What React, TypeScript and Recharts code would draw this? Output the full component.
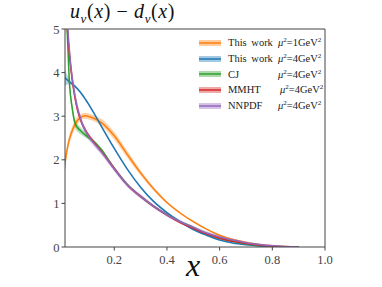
import React from 'react';
import { ComposedChart, Line, Area, XAxis, YAxis, ReferenceLine } from 'recharts';

// x grid of the curves
const xs = [0.01, 0.015, 0.02, 0.03, 0.04, 0.05, 0.06, 0.07, 0.08, 0.09, 0.1, 0.12, 0.15, 0.2, 0.25, 0.3, 0.35, 0.4, 0.45, 0.5, 0.55, 0.6, 0.65, 0.7, 0.75, 0.8, 0.85, 0.9];

// u_v - d_v, central values
const thisWork1 = [1.75, 2.0, 2.2, 2.48, 2.66, 2.8, 2.9, 2.96, 3.0, 3.01, 3.0, 2.96, 2.86, 2.55, 2.12, 1.7, 1.33, 1.02, 0.78, 0.58, 0.41, 0.27, 0.17, 0.105, 0.06, 0.03, 0.01, 0];
const thisWork4 = [3.9, 3.87, 3.84, 3.79, 3.74, 3.69, 3.63, 3.56, 3.48, 3.39, 3.3, 3.1, 2.78, 2.26, 1.78, 1.37, 1.04, 0.79, 0.58, 0.4, 0.27, 0.16, 0.09, 0.05, 0.025, 0.01, 0.003, 0];
const cj = [6.5, 5.5, 5.1, 3.75, 3.2, 2.86, 2.74, 2.68, 2.62, 2.57, 2.52, 2.43, 2.24, 1.8, 1.43, 1.16, 0.93, 0.74, 0.58, 0.45, 0.31, 0.2, 0.13, 0.075, 0.04, 0.018, 0.006, 0];
const mmht = [8, 6.5, 5.3, 4.4, 3.85, 3.45, 3.15, 2.95, 2.8, 2.68, 2.58, 2.42, 2.2, 1.8, 1.42, 1.16, 0.93, 0.73, 0.56, 0.43, 0.3, 0.2, 0.13, 0.08, 0.045, 0.02, 0.007, 0];
const nnpdf = [9, 7, 5.6, 4.5, 3.9, 3.5, 3.2, 2.98, 2.8, 2.67, 2.56, 2.4, 2.19, 1.79, 1.42, 1.16, 0.93, 0.74, 0.58, 0.45, 0.32, 0.23, 0.16, 0.1, 0.06, 0.03, 0.01, 0];

// half-widths of the uncertainty bands
const thisWork1Err = [0.05, 0.08, 0.1, 0.1, 0.1, 0.1, 0.09, 0.08, 0.07, 0.07, 0.07, 0.07, 0.08, 0.09, 0.08, 0.06, 0.04, 0.03, 0.02, 0.02, 0.01, 0.01, 0.01, 0, 0, 0, 0, 0];
const thisWork4Err = [0.2, 0.17, 0.12, 0.06, 0.04, 0.03, 0.03, 0.03, 0.03, 0.03, 0.03, 0.03, 0.03, 0.03, 0.02, 0.02, 0.02, 0.02, 0.02, 0.02, 0.01, 0.01, 0.01, 0, 0, 0, 0, 0];
const cjErr = [0.2, 0.15, 0.12, 0.1, 0.1, 0.1, 0.09, 0.08, 0.07, 0.06, 0.05, 0.04, 0.04, 0.03, 0.03, 0.02, 0.02, 0.02, 0.02, 0.02, 0.01, 0.01, 0.01, 0, 0, 0, 0, 0];
const mmhtErr = [0.2, 0.15, 0.12, 0.1, 0.08, 0.07, 0.06, 0.06, 0.05, 0.05, 0.05, 0.04, 0.04, 0.04, 0.03, 0.03, 0.03, 0.02, 0.02, 0.02, 0.02, 0.02, 0.01, 0.01, 0.01, 0, 0, 0];
const nnpdfErr = [0.3, 0.25, 0.2, 0.15, 0.12, 0.1, 0.1, 0.09, 0.08, 0.08, 0.07, 0.07, 0.06, 0.06, 0.05, 0.05, 0.04, 0.04, 0.04, 0.04, 0.04, 0.04, 0.03, 0.03, 0.02, 0.02, 0.01, 0];

const xTicks = [0.2, 0.4, 0.6, 0.8, 1.0];
const yTicks = [0, 1, 2, 3, 4, 5];

const series = [
  { key: 'tw1', name: 'This work', scale: '1', color: '#ff7f0e', vals: thisWork1, err: thisWork1Err },
  { key: 'tw4', name: 'This work', scale: '4', color: '#1f77b4', vals: thisWork4, err: thisWork4Err },
  { key: 'cj', name: 'CJ', scale: '4', color: '#2ca02c', vals: cj, err: cjErr },
  { key: 'mmht', name: 'MMHT', scale: '4', color: '#d62728', vals: mmht, err: mmhtErr },
  { key: 'nnpdf', name: 'NNPDF', scale: '4', color: '#9467bd', vals: nnpdf, err: nnpdfErr },
];

const rows = xs.map((x, i) => {
  const row: Record<string, any> = { x };
  series.forEach((s) => {
    row[s.key] = s.vals[i];
    row[s.key + 'Band'] = [s.vals[i] - s.err[i], s.vals[i] + s.err[i]];
  });
  return row;
});

const serif = "'Liberation Serif', serif";

const XTick = (props: any) => {
  const { x, y, payload } = props;
  return (
    <text x={x} y={y + 11} textAnchor="middle" fill="#444" fontSize={12.5} fontFamily={serif}>
      {Number(payload.value).toFixed(1)}
    </text>
  );
};

const YTick = (props: any) => {
  const { x, y, payload } = props;
  return (
    <text x={x} y={y + 4.5} textAnchor="end" fill="#444" fontSize={12.5} fontFamily={serif}>
      {payload.value}
    </text>
  );
};

const sup = { fontSize: 7, verticalAlign: 4, lineHeight: 0 } as const;

const LegendBox = () => (
  <div style={{ position: 'absolute', left: 199, top: 35, fontFamily: serif, fontSize: 10.5, color: '#222' }}>
    {series.map((s) => (
      <div key={s.key} style={{ display: 'flex', alignItems: 'center', height: 15.7 }}>
        <svg width={22} height={10} style={{ marginRight: 7, flexShrink: 0 }}>
          <rect x={0} y={2} width={22} height={6} fill={s.color} fillOpacity={0.4} />
          <line x1={0} x2={22} y1={5} y2={5} stroke={s.color} strokeWidth={1.5} />
        </svg>
        <span style={{ width: 50, flexShrink: 0, whiteSpace: 'nowrap', wordSpacing: 2 }}>{s.name}</span>
        <span style={{ marginLeft: s.key === 'mmht' ? 2 : 0, whiteSpace: 'nowrap' }}>
          <i>μ</i><span style={sup}>2</span>={s.scale}GeV<span style={sup}>2</span>
        </span>
      </div>
    ))}
  </div>
);

export default function App() {
  return (
    <div style={{ position: 'absolute', left: 0, top: 0, width: 382, height: 287, background: '#fff', fontFamily: serif }}>
      <ComposedChart width={382} height={287} data={rows} margin={{ top: 29, right: 57, bottom: 10, left: 35 }}>
        <XAxis
          dataKey="x"
          type="number"
          domain={[0.013, 1]}
          ticks={xTicks}
          allowDataOverflow
          height={30}
          tick={<XTick />}
          tickSize={3.5}
          stroke="#444"
        />
        <YAxis
          type="number"
          domain={[0, 5]}
          ticks={yTicks}
          allowDataOverflow
          width={30}
          tick={<YTick />}
          tickSize={3.5}
          stroke="#444"
        />
        <ReferenceLine y={5} stroke="#444" strokeWidth={1} />
        <ReferenceLine x={1} stroke="#444" strokeWidth={1} />
        {series.map((s) => [
          <Area
            key={s.key + 'Band'}
            dataKey={s.key + 'Band'}
            type="monotone"
            stroke="none"
            fill={s.color}
            fillOpacity={0.35}
            isAnimationActive={false}
          />,
          <Line
            key={s.key}
            dataKey={s.key}
            type="monotone"
            stroke={s.color}
            strokeWidth={1.5}
            dot={false}
            isAnimationActive={false}
          />,
        ])}
      </ComposedChart>
      <div style={{ position: 'absolute', left: 70, top: 0, fontSize: 20, color: '#111', whiteSpace: 'nowrap', letterSpacing: 0.6 }}>
        <i>u</i><sub style={{ fontSize: 13 }}><i>v</i></sub>(<i>x</i>) − <i>d</i><sub style={{ fontSize: 13 }}><i>v</i></sub>(<i>x</i>)
      </div>
      <div style={{ position: 'absolute', left: 186, top: 247, fontSize: 32, fontStyle: 'italic', color: '#111' }}>
        x
      </div>
      <LegendBox />
    </div>
  );
}
